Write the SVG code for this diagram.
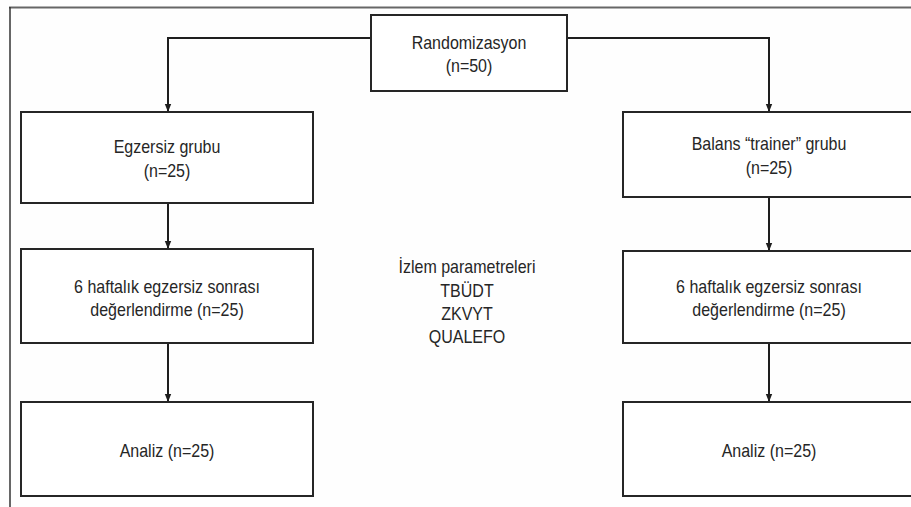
<svg xmlns="http://www.w3.org/2000/svg" width="911" height="507" viewBox="0 0 911 507">
<style>
.box{fill:#ffffff;stroke:#262626;stroke-width:2}
.t{font-family:"Liberation Sans",Arial,Helvetica,sans-serif;font-size:18px;fill:#262626;text-anchor:middle}
.c{fill:none;stroke:#1e1e1e;stroke-width:2;marker-end:url(#ah)}
</style>
<defs>
<marker id="ah" markerWidth="8" markerHeight="8" refX="7" refY="4" orient="auto" markerUnits="userSpaceOnUse">
<path d="M0,0.8 L8,4 L0,7.2 Z" fill="#1e1e1e"/>
</marker>
</defs>
<rect x="0" y="0" width="911" height="507" fill="#fefefe"/>
<g id="frame">
<line x1="9" y1="7.5" x2="911" y2="7.5" stroke="#666" stroke-width="2"/>
<line x1="10" y1="7" x2="10" y2="507" stroke="#333" stroke-width="1.5"/>
</g>
<g id="connectors">
<path class="c" d="M371,38 H168 V111"/>
<path class="c" d="M567,38 H769 V111"/>
<path class="c" d="M168,203 V248"/>
<path class="c" d="M769,197 V250"/>
<path class="c" d="M168,343 V401"/>
<path class="c" d="M769,343 V401"/>
</g>
<g id="randomizasyon">
<rect class="box" x="371" y="15" width="196" height="76"/>
<text class="t" transform="translate(469,49) scale(0.89,1)">Randomizasyon</text>
<text class="t" transform="translate(469,72) scale(0.89,1)">(n=50)</text>
</g>
<g id="egzersiz-grubu">
<rect class="box" x="21" y="112" width="292" height="91"/>
<text class="t" transform="translate(167,153) scale(0.89,1)">Egzersiz grubu</text>
<text class="t" transform="translate(167,177) scale(0.89,1)">(n=25)</text>
</g>
<g id="balans-grubu">
<rect class="box" x="623" y="112" width="292" height="85"/>
<text class="t" transform="translate(769,150) scale(0.89,1)">Balans “trainer” grubu</text>
<text class="t" transform="translate(769,174) scale(0.89,1)">(n=25)</text>
</g>
<g id="sol-degerlendirme">
<rect class="box" x="21" y="249" width="292" height="94"/>
<text class="t" transform="translate(167,293) scale(0.89,1)">6 haftalık egzersiz sonrası</text>
<text class="t" transform="translate(167,316) scale(0.89,1)">değerlendirme (n=25)</text>
</g>
<g id="sag-degerlendirme">
<rect class="box" x="623" y="251" width="292" height="92"/>
<text class="t" transform="translate(769,293) scale(0.89,1)">6 haftalık egzersiz sonrası</text>
<text class="t" transform="translate(769,316) scale(0.89,1)">değerlendirme (n=25)</text>
</g>
<g id="izlem">
<text class="t" transform="translate(467,273) scale(0.89,1)">İzlem parametreleri</text>
<text class="t" transform="translate(467,297) scale(0.89,1)">TBÜDT</text>
<text class="t" transform="translate(467,320) scale(0.89,1)">ZKVYT</text>
<text class="t" transform="translate(467,343) scale(0.89,1)">QUALEFO</text>
</g>
<g id="sol-analiz">
<rect class="box" x="21" y="402" width="292" height="94"/>
<text class="t" transform="translate(167,457) scale(0.89,1)">Analiz (n=25)</text>
</g>
<g id="sag-analiz">
<rect class="box" x="623" y="402" width="292" height="94"/>
<text class="t" transform="translate(769,457) scale(0.89,1)">Analiz (n=25)</text>
</g>
</svg>
